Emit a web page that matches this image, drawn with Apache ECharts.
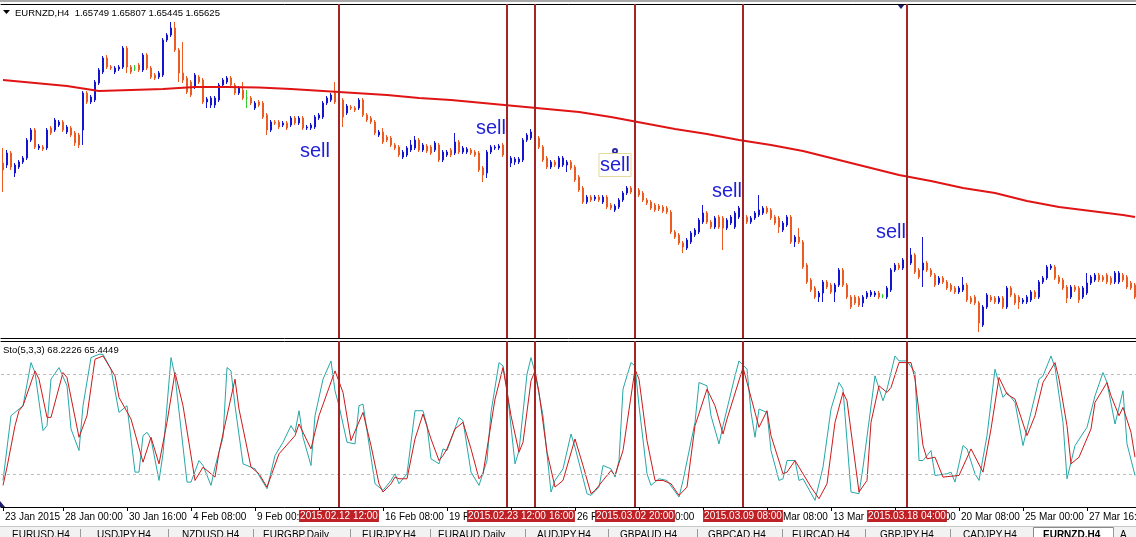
<!DOCTYPE html>
<html>
<head>
<meta charset="utf-8">
<script src="https://cdn.jsdelivr.net/npm/echarts@6/dist/echarts.min.js"></script>
<style>
html,body{margin:0;padding:0;background:#fff;overflow:hidden}
#chart{width:1136px;height:537px}
</style>
</head>
<body>
<div id="chart"></div>
<script>
// ================= DATA =================
const symbolHeader = 'EURNZD,H4  1.65749 1.65807 1.65445 1.65625';
const stoHeader = 'Sto(5,3,3) 68.2226 65.4449';
const firstBarUTC = [2015, 0, 23, 12];   // first H4 bar: 2015.01.23 12:00
const barCount = 284;

const opens = [
1.437,1.435,1.447,1.427,1.433,1.438,1.442,1.460,1.470,1.452,
1.453,1.452,1.472,1.470,1.475,1.478,1.468,1.472,1.467,1.465,
1.470,1.507,1.498,1.500,1.517,1.528,1.542,1.533,1.528,1.531,
1.533,1.552,1.533,1.532,1.535,1.530,1.545,1.532,1.525,1.523,
1.525,1.560,1.565,1.572,1.550,1.527,1.522,1.518,1.513,1.523,
1.520,1.498,1.495,1.495,1.500,1.515,1.518,1.522,1.515,1.507,
1.510,1.502,1.502,1.492,1.498,1.497,1.485,1.470,1.478,1.478,
1.475,1.477,1.475,1.482,1.477,1.482,1.472,1.472,1.473,1.482,
1.483,1.497,1.500,1.507,1.504,1.500,1.487,1.493,1.492,1.492,
1.500,1.485,1.482,1.478,1.465,1.468,1.463,1.462,1.455,1.453,
1.443,1.445,1.450,1.452,1.460,1.450,1.454,1.453,1.450,1.455,
1.440,1.445,1.450,1.447,1.458,1.448,1.448,1.450,1.448,1.447,
1.432,1.427,1.448,1.452,1.452,1.455,1.445,1.437,1.438,1.438,
1.440,1.460,1.462,1.468,1.462,1.453,1.442,1.433,1.438,1.433,
1.435,1.435,1.438,1.433,1.423,1.412,1.398,1.403,1.401,1.403,
1.398,1.403,1.395,1.390,1.393,1.400,1.407,1.412,1.410,1.410,
1.407,1.400,1.398,1.395,1.394,1.393,1.392,1.388,1.368,1.365,
1.357,1.352,1.358,1.365,1.368,1.378,1.387,1.378,1.373,1.383,
1.382,1.372,1.377,1.373,1.383,1.390,1.383,1.378,1.382,1.385,
1.387,1.392,1.390,1.383,1.382,1.370,1.375,1.383,1.358,1.363,
1.358,1.335,1.320,1.312,1.303,1.307,1.318,1.315,1.308,1.315,
1.330,1.315,1.303,1.303,1.302,1.297,1.303,1.305,1.305,1.307,
1.304,1.303,1.310,1.330,1.335,1.332,1.337,1.337,1.345,1.330,
1.330,1.337,1.330,1.325,1.317,1.322,1.318,1.315,1.312,1.308,
1.310,1.315,1.302,1.303,1.297,1.275,1.293,1.303,1.302,1.298,
1.302,1.293,1.312,1.305,1.303,1.298,1.298,1.300,1.308,1.303,
1.318,1.322,1.332,1.333,1.323,1.320,1.313,1.303,1.313,1.312,
1.303,1.307,1.317,1.320,1.325,1.323,1.325,1.322,1.318,1.318,
1.325,1.323,1.317,1.315];

const highs = [
1.452,1.450,1.449,1.437,1.440,1.444,1.462,1.472,1.472,1.456,
1.455,1.472,1.474,1.482,1.480,1.480,1.475,1.474,1.469,1.467,
1.509,1.509,1.505,1.520,1.532,1.544,1.545,1.535,1.534,1.535,
1.554,1.554,1.535,1.535,1.537,1.547,1.547,1.534,1.527,1.529,
1.562,1.567,1.578,1.578,1.552,1.558,1.524,1.520,1.527,1.525,
1.522,1.503,1.504,1.504,1.517,1.522,1.524,1.524,1.517,1.514,
1.518,1.510,1.504,1.499,1.500,1.499,1.487,1.480,1.480,1.480,
1.479,1.479,1.484,1.484,1.484,1.484,1.475,1.477,1.485,1.487,
1.499,1.504,1.507,1.518,1.506,1.502,1.496,1.495,1.494,1.502,
1.502,1.487,1.484,1.480,1.470,1.472,1.465,1.464,1.457,1.455,
1.450,1.454,1.460,1.464,1.462,1.457,1.456,1.455,1.459,1.457,
1.450,1.450,1.452,1.467,1.460,1.454,1.453,1.452,1.450,1.449,
1.434,1.450,1.455,1.455,1.456,1.457,1.447,1.444,1.443,1.443,
1.462,1.467,1.471,1.470,1.464,1.455,1.444,1.440,1.440,1.444,
1.444,1.440,1.440,1.435,1.425,1.414,1.405,1.405,1.405,1.405,
1.405,1.405,1.397,1.396,1.402,1.409,1.414,1.414,1.412,1.412,
1.409,1.402,1.400,1.397,1.396,1.395,1.394,1.390,1.370,1.367,
1.359,1.362,1.369,1.372,1.382,1.395,1.389,1.380,1.384,1.385,
1.384,1.382,1.385,1.389,1.394,1.392,1.385,1.384,1.389,1.405,
1.394,1.394,1.392,1.385,1.384,1.379,1.385,1.385,1.365,1.372,
1.360,1.337,1.322,1.314,1.309,1.320,1.320,1.317,1.317,1.332,
1.332,1.317,1.305,1.305,1.304,1.305,1.309,1.310,1.309,1.309,
1.306,1.314,1.332,1.337,1.337,1.342,1.345,1.352,1.347,1.332,
1.363,1.339,1.332,1.327,1.324,1.324,1.320,1.317,1.314,1.314,
1.323,1.317,1.304,1.305,1.299,1.295,1.307,1.305,1.304,1.304,
1.304,1.314,1.314,1.307,1.305,1.302,1.305,1.310,1.310,1.320,
1.324,1.335,1.336,1.335,1.325,1.322,1.315,1.315,1.315,1.314,
1.314,1.327,1.325,1.327,1.327,1.325,1.327,1.324,1.329,1.329,
1.327,1.325,1.319,1.317];

const lows = [
1.408,1.432,1.430,1.423,1.431,1.436,1.440,1.458,1.451,1.450,
1.449,1.450,1.465,1.468,1.473,1.468,1.466,1.463,1.454,1.452,
1.455,1.496,1.496,1.498,1.515,1.526,1.531,1.530,1.526,1.529,
1.531,1.527,1.526,1.529,1.528,1.528,1.530,1.521,1.520,1.521,
1.523,1.558,1.563,1.548,1.518,1.517,1.506,1.503,1.511,1.516,
1.496,1.492,1.492,1.492,1.498,1.513,1.516,1.513,1.505,1.505,
1.500,1.492,1.495,1.490,1.493,1.481,1.465,1.468,1.475,1.471,
1.473,1.470,1.473,1.475,1.475,1.470,1.470,1.470,1.471,1.480,
1.481,1.495,1.498,1.496,1.494,1.473,1.485,1.490,1.488,1.490,
1.483,1.478,1.476,1.465,1.463,1.456,1.458,1.453,1.450,1.443,
1.441,1.443,1.448,1.450,1.448,1.448,1.447,1.445,1.448,1.438,
1.438,1.443,1.443,1.445,1.446,1.446,1.446,1.445,1.443,1.428,
1.418,1.422,1.446,1.450,1.450,1.443,1.435,1.433,1.435,1.436,
1.438,1.458,1.460,1.460,1.451,1.438,1.431,1.431,1.433,1.431,
1.433,1.428,1.430,1.418,1.408,1.396,1.396,1.398,1.399,1.398,
1.396,1.391,1.390,1.388,1.391,1.398,1.405,1.406,1.405,1.403,
1.398,1.395,1.390,1.388,1.389,1.387,1.386,1.366,1.361,1.355,
1.347,1.350,1.356,1.363,1.366,1.376,1.376,1.371,1.371,1.371,
1.350,1.370,1.375,1.371,1.381,1.382,1.376,1.376,1.380,1.383,
1.385,1.386,1.380,1.375,1.367,1.368,1.373,1.356,1.353,1.356,
1.331,1.316,1.308,1.301,1.298,1.298,1.311,1.306,1.298,1.313,
1.313,1.301,1.291,1.295,1.293,1.293,1.301,1.303,1.303,1.301,
1.302,1.301,1.308,1.328,1.330,1.330,1.335,1.335,1.326,1.321,
1.313,1.328,1.323,1.313,1.315,1.316,1.310,1.308,1.306,1.306,
1.308,1.298,1.296,1.295,1.268,1.273,1.291,1.298,1.296,1.296,
1.291,1.291,1.303,1.295,1.291,1.296,1.296,1.298,1.301,1.301,
1.316,1.320,1.330,1.320,1.316,1.310,1.297,1.301,1.308,1.297,
1.301,1.305,1.315,1.318,1.318,1.318,1.316,1.315,1.316,1.316,
1.318,1.311,1.310,1.301];

const closes = [
1.430,1.447,1.433,1.435,1.438,1.442,1.460,1.470,1.453,1.454,
1.451,1.470,1.467,1.480,1.478,1.470,1.473,1.465,1.457,1.455,
1.507,1.498,1.503,1.518,1.530,1.542,1.533,1.532,1.532,1.533,
1.552,1.533,1.528,1.532,1.530,1.545,1.532,1.523,1.522,1.527,
1.560,1.565,1.572,1.550,1.527,1.520,1.508,1.505,1.525,1.518,
1.498,1.501,1.502,1.502,1.515,1.520,1.522,1.515,1.507,1.512,
1.502,1.502,1.497,1.497,1.495,1.483,1.470,1.478,1.477,1.473,
1.477,1.472,1.482,1.477,1.482,1.472,1.473,1.475,1.483,1.485,
1.497,1.502,1.505,1.498,1.496,1.483,1.494,1.492,1.490,1.500,
1.485,1.480,1.478,1.467,1.468,1.458,1.460,1.455,1.452,1.445,
1.448,1.452,1.455,1.460,1.450,1.455,1.449,1.447,1.457,1.440,
1.448,1.448,1.445,1.458,1.448,1.452,1.451,1.447,1.445,1.430,
1.425,1.448,1.453,1.453,1.454,1.445,1.437,1.442,1.441,1.441,
1.460,1.465,1.468,1.462,1.453,1.440,1.433,1.438,1.435,1.442,
1.442,1.438,1.432,1.420,1.410,1.398,1.403,1.400,1.403,1.400,
1.403,1.393,1.392,1.394,1.400,1.407,1.412,1.408,1.407,1.405,
1.400,1.397,1.392,1.390,1.391,1.389,1.388,1.368,1.363,1.357,
1.353,1.360,1.367,1.370,1.380,1.387,1.378,1.373,1.382,1.373,
1.372,1.380,1.383,1.387,1.392,1.384,1.378,1.382,1.387,1.390,
1.392,1.388,1.382,1.377,1.373,1.377,1.383,1.358,1.363,1.358,
1.333,1.318,1.310,1.303,1.307,1.318,1.313,1.308,1.315,1.330,
1.315,1.303,1.293,1.297,1.295,1.303,1.307,1.308,1.307,1.303,
1.304,1.312,1.330,1.335,1.332,1.340,1.343,1.345,1.328,1.323,
1.337,1.330,1.325,1.315,1.322,1.318,1.312,1.310,1.308,1.312,
1.315,1.300,1.298,1.297,1.277,1.293,1.305,1.300,1.298,1.302,
1.293,1.312,1.305,1.297,1.298,1.300,1.303,1.308,1.303,1.318,
1.322,1.333,1.334,1.322,1.318,1.312,1.302,1.313,1.310,1.300,
1.312,1.317,1.323,1.325,1.320,1.320,1.318,1.317,1.327,1.327,
1.320,1.313,1.312,1.303];

const dojiBars = [33, 61, 220];

// moving average (bar index, value)
const maPoints = [
[0,1.520],[8,1.517],[16,1.514],[24,1.509],[32,1.510],[40,1.511],[48,1.513],[56,1.513],
[64,1.5125],[72,1.511],[80,1.509],[88,1.507],[96,1.505],[104,1.502],[112,1.500],[120,1.497],
[128,1.494],[136,1.491],[144,1.488],[152,1.483],[160,1.477],[168,1.471],[176,1.466],[184,1.460],
[192,1.455],[200,1.449],[208,1.441],[216,1.433],[224,1.425],[232,1.419],[240,1.412],[248,1.407],
[256,1.399],[264,1.393],[272,1.389],[280,1.385],[283,1.383]];

// stochastic %K main line (bar index, value)
const stochK = [
[0,16],[2,55],[3,57],[5,61],[7,87],[8,81],[10,46],[11,49],[12,77],[14,84],[16,73],[17,47],[19,34],[20,61],
[22,90],[24,92],[25,92],[27,83],[29,57],[31,61],[33,21],[34,21],[35,43],[36,45],[37,41],[39,16],[40,32],
[42,90],[43,79],[46,15],[47,15],[49,28],[50,25],[52,13],[53,24],[55,42],[56,84],[57,82],[58,61],[60,26],
[63,23],[66,11],[68,31],[70,39],[72,49],[73,45],[74,58],[75,42],[77,25],[78,55],[80,77],[82,88],[83,70],
[84,61],[86,39],[88,38],[89,61],[90,62],[92,30],[93,14],[95,10],[97,16],[98,20],[99,14],[101,20],[103,58],
[105,58],[106,49],[107,29],[109,26],[110,35],[111,34],[114,54],[115,52],[117,21],[119,13],[121,28],[122,57],
[124,87],[125,85],[126,71],[128,26],[129,34],[131,80],[132,90],[133,81],[135,55],[137,9],[138,16],[140,23],
[142,44],[143,36],[146,8],[147,7],[149,12],[150,25],[152,23],[153,18],[154,28],[155,71],[157,87],[158,85],
[159,61],[161,20],[162,13],[164,17],[166,16],[169,6],[170,16],[173,51],[174,75],[176,73],[177,55],[179,38],
[180,49],[183,79],[184,88],[186,83],[187,57],[188,42],[189,59],[191,57],[192,34],[194,16],[195,17],[196,28],
[198,28],[199,16],[200,17],[203,4],[205,24],[207,59],[209,75],[210,71],[212,9],[214,8],[215,24],[218,79],
[220,64],[221,71],[223,91],[224,88],[226,88],[228,81],[229,28],[230,28],[232,34],[233,19],[236,20],[237,21],
[238,15],[239,26],[240,37],[241,35],[243,20],[244,16],[246,43],[248,83],[250,66],[251,69],[253,63],[255,37],
[257,57],[259,77],[260,79],[262,91],[263,84],[265,51],[266,17],[268,37],[271,48],[273,67],[275,81],[276,75],
[278,50],[280,70],[281,38],[283,19]];

// stochastic %D signal line (bar index, value)
const stochD = [
[0,13],[1,24],[3,49],[4,58],[5,61],[8,82],[9,77],[11,54],[12,54],[15,81],[16,78],[19,42],[21,55],[23,89],
[25,91],[28,79],[29,66],[32,53],[35,27],[37,42],[39,26],[41,51],[43,81],[45,61],[48,16],[50,24],[53,18],
[54,33],[58,77],[59,59],[62,24],[64,20],[66,12],[69,32],[73,43],[74,50],[77,35],[79,55],[83,82],[85,69],
[87,40],[90,57],[92,37],[94,14],[95,9],[97,14],[98,18],[99,17],[101,17],[103,41],[105,56],[107,41],[109,28],
[110,31],[111,35],[113,47],[115,51],[117,35],[119,17],[120,20],[123,65],[125,84],[127,55],[129,33],[130,39],
[132,76],[133,82],[134,69],[136,33],[138,12],[140,16],[143,41],[145,25],[147,8],[148,10],[152,22],[153,19],
[155,34],[158,83],[159,77],[161,40],[163,16],[165,16],[167,14],[169,7],[171,12],[173,49],[176,71],[178,61],
[180,44],[181,53],[185,84],[186,75],[189,48],[191,58],[192,43],[195,20],[196,21],[198,28],[199,24],[202,12],
[204,5],[206,14],[208,51],[210,69],[211,64],[214,9],[216,16],[217,51],[219,73],[221,69],[222,72],[224,87],
[227,87],[228,77],[230,37],[231,29],[233,30],[235,18],[239,19],[242,35],[245,21],[247,47],[249,78],[251,68],
[253,65],[256,43],[258,55],[260,75],[263,87],[264,77],[266,49],[267,26],[269,30],[272,47],[273,63],[276,75],
[277,67],[279,55],[280,60],[282,45],[283,30]];

const stochLevels = [20, 80];

// vertical signal lines (bar indexes; drawing order controls label overlap)
const signalBars = [84, 133, 126, 158, 185, 226];

// "sell" notes anchored at (bar, price)
const sellNotes = [
  {bar: 78,  price: 1.449, boxed: false},
  {bar: 122, price: 1.472, boxed: false},
  {bar: 153, price: 1.435, boxed: true},
  {bar: 181, price: 1.409, boxed: false},
  {bar: 222, price: 1.368, boxed: false}
];
const selectedAnchor = {bar: 153, price: 1.449};

const tabNames = ['EURUSD,H4','USDJPY,H4','NZDUSD,H4','EURGBP,Daily','EURJPY,H4','EURAUD,Daily',
  'AUDJPY,H4','GBPAUD,H4','GBPCAD,H4','EURCAD,H4','GBPJPY,H4','CADJPY,H4','EURNZD,H4','A'];
const tabTextX = [12,97,182,263,362,438,537,620,708,792,880,963,1043,1120];
const tabSeparatorX = [80,168,253,350,430,525,608,697,782,865,950,1113];
const activeTab = 12;

// ================= BUILD =================
const MONTHS = ['Jan','Feb','Mar','Apr','May','Jun','Jul','Aug','Sep','Oct','Nov','Dec'];
const pad = n => (n < 10 ? '0' : '') + n;
function buildCategories() {
  const out = [];
  let t = Date.UTC.apply(null, firstBarUTC);
  while (out.length < barCount) {
    const d = new Date(t);
    const wd = d.getUTCDay();
    if (wd !== 0 && wd !== 6) {
      out.push(d.getUTCFullYear() + '.' + pad(d.getUTCMonth() + 1) + '.' + pad(d.getUTCDate()) +
        ' ' + pad(d.getUTCHours()) + ':' + pad(d.getUTCMinutes()));
    }
    t += 4 * 3600 * 1000;
  }
  return out;
}
const cats = buildCategories();

const FONT = "'Liberation Sans', Arial, sans-serif";
const BULL = '#1515d0', BEAR = '#ec5b22', DOJI = '#2ecc2e';
const MA_RED = '#e01414', K_COL = '#27a7a7', D_COL = '#cc1a1a';
const VLINE = '#a52424', BOX = '#bf2026', SELL = '#1f1fd9';

const candleData = opens.map((o, i) => {
  const item = {value: [o, closes[i], lows[i], highs[i]]};
  if (dojiBars.indexOf(i) >= 0) {
    item.itemStyle = {color: DOJI, color0: DOJI, borderColor: DOJI, borderColor0: DOJI};
  }
  return item;
});

const tickRule = (index) => index === 0 || (index >= 15 && (index - 15) % 16 === 0);
function axisText(value, index) {
  const parts = value.split(' ');
  const dp = parts[0].split('.');
  const dayMon = (+dp[2]) + ' ' + MONTHS[+dp[1] - 1];
  return index === 0 ? dayMon + ' ' + dp[0] : dayMon + ' ' + parts[1];
}

const frameAxis = (grid, pos) => ({
  type: 'category', gridIndex: grid, data: cats, position: pos,
  axisLine: {show: true, lineStyle: {color: '#000', width: 1}},
  axisTick: {show: false}, axisLabel: {show: false}, splitLine: {show: false}
});

const graphics = [
  {type: 'rect', shape: {x: 0, y: 0, width: 1136, height: 2}, style: {fill: '#a8a8a8'}},
  {type: 'polygon', shape: {points: [[3, 10], [10, 10], [6.5, 14]]}, style: {fill: '#000'}},
  {type: 'text', x: 15, y: 13, style: {text: symbolHeader, font: '9.5px ' + FONT, fill: '#000', verticalAlign: 'middle'}},
  {type: 'text', x: 3, y: 350, style: {text: stoHeader, font: '9.5px ' + FONT, fill: '#000', verticalAlign: 'middle'}},
  {type: 'polygon', shape: {points: [[897, 4], [905, 4], [901, 9]]}, style: {fill: '#1e1e6e'}},
  {type: 'polygon', shape: {points: [[0, 501], [5, 507], [0, 507]]}, style: {fill: '#1e1e6e'}},
  {type: 'rect', shape: {x: 0, y: 526, width: 1136, height: 11}, style: {fill: '#f2f2f2'}},
  {type: 'line', shape: {x1: 0, y1: 526.5, x2: 1136, y2: 526.5}, style: {stroke: '#c8c8c8', lineWidth: 1}},
  {type: 'rect', shape: {x: 1033.5, y: 527.5, width: 80, height: 12}, style: {fill: '#ffffff', stroke: '#8a8a8a', lineWidth: 1}}
];
tabSeparatorX.forEach(x => graphics.push({type: 'line', shape: {x1: x + 0.5, y1: 529, x2: x + 0.5, y2: 537}, style: {stroke: '#9a9a9a', lineWidth: 1}}));
tabNames.forEach((n, k) => graphics.push({type: 'text', x: tabTextX[k], y: 530,
  style: {text: n, font: (k === activeTab ? 'bold ' : '') + '10px ' + FONT, fill: '#000', verticalAlign: 'top'}}));

const option = {
  animation: false,
  backgroundColor: '#ffffff',
  grid: [
    {left: 1, right: -1, top: 4, height: 334, outerBoundsMode: 'none', containLabel: false},
    {left: 1, right: -1, top: 341, height: 166, outerBoundsMode: 'none', containLabel: false}
  ],
  xAxis: [
    frameAxis(0, 'bottom'),
    frameAxis(0, 'top'),
    {
      type: 'category', gridIndex: 1, data: cats, position: 'bottom',
      axisLine: {show: true, lineStyle: {color: '#000', width: 1}},
      axisTick: {show: true, alignWithLabel: true, interval: tickRule, length: 4, lineStyle: {color: '#000'}},
      axisLabel: {show: true, interval: tickRule, formatter: axisText, align: 'left', padding: [0, 0, 0, 2],
        margin: 5, color: '#000', fontSize: 10, fontFamily: FONT},
      splitLine: {show: false}
    },
    frameAxis(1, 'top')
  ],
  yAxis: [
    {type: 'value', gridIndex: 0, min: 1.262, max: 1.596, show: false},
    {type: 'value', gridIndex: 1, min: 0, max: 100, show: false}
  ],
  graphic: graphics,
  series: [
    {
      type: 'candlestick', xAxisIndex: 0, yAxisIndex: 0, data: candleData, barWidth: 2,
      itemStyle: {color: BULL, color0: BEAR, borderColor: BULL, borderColor0: BEAR, borderWidth: 1},
      markPoint: {
        silent: true, symbol: 'circle', symbolSize: 1,
        itemStyle: {color: 'rgba(0,0,0,0)'},
        label: {show: true, position: 'inside', formatter: 'sell', color: SELL, fontSize: 20, fontFamily: FONT},
        data: sellNotes.map(n => ({
          coord: [cats[n.bar], n.price],
          label: n.boxed ? {borderColor: '#e2da9a', borderWidth: 1, padding: [2, 1, 1, 1]} : {}
        })).concat([{
          coord: [cats[selectedAnchor.bar], selectedAnchor.price], symbol: 'emptyCircle', symbolSize: 4,
          itemStyle: {color: '#2a2aa0', borderColor: '#2a2aa0', borderWidth: 1}, label: {show: false}
        }])
      }
    },
    {
      type: 'line', xAxisIndex: 0, yAxisIndex: 0, data: maPoints, showSymbol: false, symbol: 'none',
      lineStyle: {color: MA_RED, width: 2}, silent: true,
      markLine: {
        silent: true, symbol: ['none', 'none'], label: {show: false},
        lineStyle: {color: VLINE, width: 2, type: 'solid'},
        data: signalBars.map(b => ({xAxis: cats[b]}))
      }
    },
    {
      type: 'line', xAxisIndex: 2, yAxisIndex: 1, data: stochK, showSymbol: false, symbol: 'none',
      lineStyle: {color: K_COL, width: 1}, silent: true,
      markLine: {
        silent: true, symbol: ['none', 'none'], label: {show: false},
        lineStyle: {color: '#bdbdbd', width: 1, type: [3, 3]},
        data: stochLevels.map(v => ({yAxis: v}))
      }
    },
    {
      type: 'line', xAxisIndex: 2, yAxisIndex: 1, data: stochD, showSymbol: false, symbol: 'none',
      lineStyle: {color: D_COL, width: 1}, silent: true,
      markLine: {
        silent: true, symbol: ['none', 'none'],
        lineStyle: {color: VLINE, width: 2, type: 'solid'},
        label: {show: true, position: 'start', formatter: p => p.name, color: '#fff', backgroundColor: BOX,
          fontSize: 10, fontFamily: FONT, padding: [1, 1, 1, 1], distance: 3},
        data: signalBars.map(b => ({xAxis: cats[b], name: cats[b]}))
      }
    }
  ]
};

const chart = echarts.init(document.getElementById('chart'), null, {renderer: 'canvas'});
chart.setOption(option);
</script>
</body>
</html>
